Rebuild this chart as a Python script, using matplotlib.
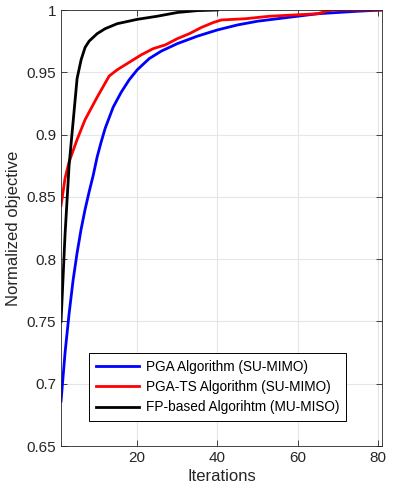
import matplotlib
matplotlib.use("Agg")
import matplotlib.pyplot as plt
from matplotlib.ticker import FuncFormatter

# ─────────────────────────────────────
# DATA
# ─────────────────────────────────────
pga_iter = [1, 2, 3, 4, 5, 6, 7, 8, 9, 10, 11, 12, 14, 16, 18, 20, 23, 26, 30,
            35, 40, 45, 50, 55, 60, 65, 70, 75, 81]
pga_obj  = [0.686, 0.725, 0.756, 0.783, 0.805, 0.824, 0.840, 0.854, 0.867, 0.882,
            0.894, 0.905, 0.922, 0.934, 0.944, 0.952, 0.961, 0.967, 0.973,
            0.979, 0.984, 0.988, 0.991, 0.993, 0.995, 0.997, 0.998, 0.999, 1.0]

ts_iter = [1, 2, 3, 4, 5, 7, 10, 13, 15, 18, 21, 24, 27, 30, 33, 36, 39, 41,
           47, 53, 59, 65, 67, 69, 81]
ts_obj  = [0.843, 0.865, 0.878, 0.887, 0.896, 0.912, 0.930, 0.947, 0.952, 0.958,
           0.964, 0.969, 0.972, 0.977, 0.981, 0.986, 0.990, 0.992,
           0.993, 0.995, 0.996, 0.997, 0.999, 1.0, 1.0]

fp_iter = [1, 2, 3, 4, 5, 6, 7, 8, 10, 12, 15, 20, 25, 30, 35, 40]
fp_obj  = [0.75, 0.82, 0.875, 0.91, 0.945, 0.96, 0.97, 0.975, 0.981, 0.985,
           0.989, 0.9925, 0.995, 0.998, 0.9995, 1.0]

labels = ["PGA Algorithm (SU-MIMO)",
          "PGA-TS Algorithm (SU-MIMO)",
          "FP-based Algorihtm (MU-MISO)"]

# ─────────────────────────────────────
# PLOT
# ─────────────────────────────────────
plt.rcParams['font.family'] = ['Liberation Sans', 'DejaVu Sans']

fig = plt.figure(figsize=(3.99, 5.0), dpi=100)
ax = fig.add_axes([0.153, 0.108, 0.804, 0.872])

ax.plot(pga_iter, pga_obj, color="blue",  lw=2, label=labels[0])
ax.plot(ts_iter,  ts_obj,  color="red",   lw=2, label=labels[1])
ax.plot(fp_iter,  fp_obj,  color="black", lw=2, label=labels[2])

ax.set_xlim(1, 81)
ax.set_ylim(0.65, 1.0)
ax.set_xticks([20, 40, 60, 80])
ax.set_yticks([0.65, 0.7, 0.75, 0.8, 0.85, 0.9, 0.95, 1.0])
ax.yaxis.set_major_formatter(FuncFormatter(lambda v, p: f"{v:g}"))

ax.grid(True, color="#e6e6e6", lw=0.8)
ax.set_axisbelow(True)
for s in ax.spines.values():
    s.set_color("#262626")
    s.set_linewidth(0.6)
ax.tick_params(direction="in", top=True, right=True, length=4, width=0.6,
               labelsize=11, colors="#262626")

ax.set_xlabel("Iterations", fontsize=12, color="#262626", labelpad=3)
ax.set_ylabel("Normalized objective", fontsize=12, color="#262626", labelpad=4)

leg = ax.legend(loc="lower left", bbox_to_anchor=(0.087, 0.057), fontsize=9.8,
                fancybox=False, framealpha=1, edgecolor="black",
                handlelength=3.2, borderpad=0.5, labelspacing=0.45,
                handletextpad=0.5, borderaxespad=0)
leg.get_frame().set_linewidth(0.7)

plt.savefig("out.png", dpi=100)
